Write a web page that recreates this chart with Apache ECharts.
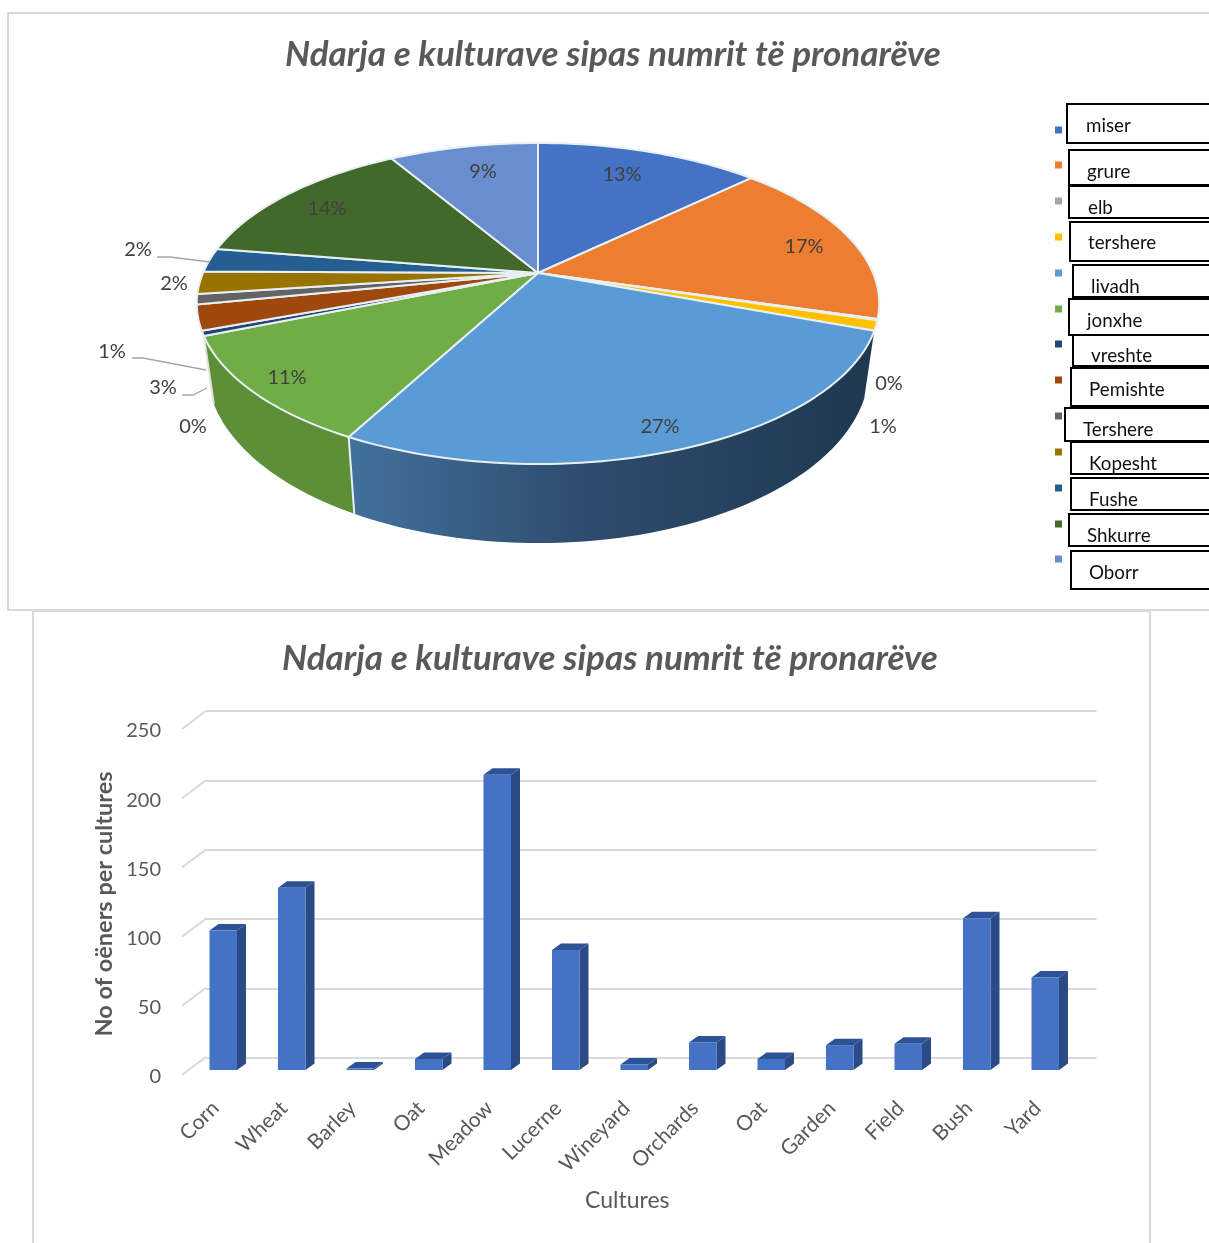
<!DOCTYPE html>
<html><head><meta charset="utf-8">
<style>html,body{margin:0;padding:0;background:#fff}#c{width:1209px;height:1243px}</style>
<script src="https://cdn.jsdelivr.net/npm/echarts@6/dist/echarts.min.js"></script>
</head><body><div id="c"></div>
<script>
const chartTitle = 'Ndarja e kulturave sipas numrit të pronarëve';
const barCategories = ['Corn','Wheat','Barley','Oat','Meadow','Lucerne','Wineyard','Orchards','Oat','Garden','Field','Bush','Yard'];
const ownerCounts = [101,132,1,8,214,87,4,20,8,18,19,110,67];
const yTicks = [0,50,100,150,200,250];
const pieNames = ['miser','grure','elb','tershere','livadh','jonxhe','vreshte','Pemishte','Tershere','Kopesht','Fushe','Shkurre','Oborr'];
const pieLabels = ['13%','17%','0%','1%','27%','11%','0%','3%','1%','2%','2%','14%','9%'];
const pieColors = ['#4472c4','#ed7d31','#a5a5a5','#ffc000','#5b9bd5','#70ad47','#264478','#9e480e','#636363','#997300','#255e91','#43682b','#698ed0'];

// Layout (not data)
const labelPos = [[622,175],[804,247],[889,384],[883,427],[660,427],[287,378],[193,427],[163,388],[112,352],[174,284],[138,250],[327,209],[483,172]];
const leaderLines = {10:[[157,257],[170,257],[210,262]],8:[[132,358],[143,358],[206,370]],7:[[182,395],[193,395],[207,388]]};
const legendBoxes = [[1067,104,143,1086,126,130],[1069,150,185,1087,172,165],[1069,186,218,1088,208,201],[1070,222,261,1088,243,237],[1073,265,297,1091,287,273],[1069,299,335,1087,321,309],[1073,335,366,1091,356,344],[1071,368,406,1089,390,380],[1065,408,441,1083,430,416],[1071,442,474,1089,464,452],[1071,478,510,1089,500,488],[1069,514,546,1087,536,524],[1071,551,589,1089,573,559]];

const FONT = 'Lato, "Open Sans", sans-serif';
const total = ownerCounts.reduce((a,b)=>a+b,0);
const cum = [0]; ownerCounts.forEach(v=>cum.push(cum[cum.length-1]+v));
const K = 0.19;
const TOP = {cx:538, cy:273, A:335, B:154.7};
const BOT = {cx:538, cy:335.7, A:325, B:168};
function proj(p, deg){
  const t = deg*Math.PI/180, X=Math.sin(t), Y=Math.cos(t), w=1+K*Y;
  return [p.cx + p.A*X/w, p.cy - p.B*Y/w];
}
const angle = i => cum[i]/total*360;
const SIDE_FROM = angle(4), SIDE_TO = angle(6);
function arc(p,a,b){ const n=Math.max(2,Math.ceil((b-a)/1.5)), r=[]; for(let i=0;i<=n;i++) r.push(proj(p,a+(b-a)*i/n)); return r; }
function seam(a,color,w){ const t=proj(TOP,a), b=proj(BOT,a); return {type:'line',shape:{x1:t[0],y1:t[1],x2:b[0],y2:b[1]},style:{stroke:color,lineWidth:w}}; }

function sideItem(params){
  const i=params.dataIndex, a=Math.max(angle(i),SIDE_FROM), b=Math.min(angle(i+1),SIDE_TO);
  if(b<=a) return {type:'group',children:[]};
  const pts = arc(TOP,a,b).concat(arc(BOT,a,b).reverse());
  const fill = pieNames[i]==='livadh'
    ? new echarts.graphic.LinearGradient(0,0,1,0,[{offset:0,color:'#42719d'},{offset:.45,color:'#2e4c6e'},{offset:1,color:'#1f3850'}])
    : '#5c8f38';
  const kids=[{type:'polygon',shape:{points:pts},style:{fill}}];
  if(a>SIDE_FROM) kids.push(seam(a,'#e6eff2',2));
  if(b>=SIDE_TO) kids.push(seam(b,'#e9dfd6',2));
  return {type:'group',children:kids};
}
function topItem(params){
  const i=params.dataIndex;
  const pts=[[TOP.cx,TOP.cy]].concat(arc(TOP,angle(i),angle(i+1)));
  return {type:'polygon',shape:{points:pts},style:{fill:pieColors[i],stroke:'#e8f0f3',lineWidth:2,lineJoin:'round'}};
}
function labelItem(params){
  const i=params.dataIndex, kids=[];
  if(leaderLines[i]) kids.push({type:'polyline',shape:{points:leaderLines[i]},style:{fill:'none',stroke:'#a6a6a6',lineWidth:1.3}});
  kids.push({type:'text',style:{text:pieLabels[i],x:labelPos[i][0],y:labelPos[i][1],fill:'#404040',font:'20px '+FONT,align:'center',verticalAlign:'middle'}});
  return {type:'group',children:kids};
}
function legendItem(params){
  const i=params.dataIndex, b=legendBoxes[i];
  return {type:'group',children:[
    {type:'rect',shape:{x:b[0],y:b[1],width:1300-b[0],height:b[2]-b[1]},style:{fill:'#fff',stroke:'#000',lineWidth:2}},
    {type:'rect',shape:{x:1055,y:b[5]-3.5,width:7,height:7},style:{fill:pieColors[i]}},
    {type:'text',style:{text:pieNames[i],x:b[3],y:b[4],fill:'#111',font:'18.8px '+FONT,align:'left',verticalAlign:'middle'}}
  ]};
}
function barItem(params,api){
  const i=api.value(0), top=api.coord([i,api.value(1)]), base=api.coord([i,0]);
  const hw=13.75, dx=9, dy=-6.5, l=top[0]-hw, r=top[0]+hw, t=top[1], y0=base[1];
  return {type:'group',children:[
    {type:'polygon',shape:{points:[[r,t],[r+dx,t+dy],[r+dx,y0+dy],[r,y0]]},style:{fill:'#2a4b85'}},
    {type:'polygon',shape:{points:[[l,t],[l+dx,t+dy],[r+dx,t+dy],[r,t]]},style:{fill:'#2d5296'}},
    {type:'rect',shape:{x:l,y:t,width:hw*2,height:y0-t},style:{fill:'#4472c4'}}
  ]};
}
function diagItem(params,api){
  const p=api.coord([0,api.value(0)]);
  return {type:'line',shape:{x1:p[0],y1:p[1]-2,x2:p[0]+24,y2:p[1]-20},style:{stroke:'#d9d9d9',lineWidth:2}};
}
const hiddenAxisBits={axisLine:{show:false},axisTick:{show:false},axisLabel:{show:false},splitLine:{show:false}};
const titleStyle={fontFamily:FONT,fontSize:35,fontWeight:'bold',fontStyle:'italic',color:'#595959'};
const chart=echarts.init(document.getElementById('c'),null,{renderer:'canvas'});
chart.setOption({
  animation:false,
  backgroundColor:'#fff',
  textStyle:{fontFamily:FONT},
  title:[
    {text:chartTitle,left:608,top:32,textAlign:'center',textStyle:titleStyle},
    {text:chartTitle,left:605,top:636,textAlign:'center',textStyle:titleStyle}
  ],
  graphic:[
    {type:'rect',z:-10,shape:{x:8,y:13,width:1300,height:597},style:{fill:'#fff',stroke:'#d9d9d9',lineWidth:2}},
    {type:'rect',z:-10,shape:{x:33,y:611,width:1117,height:720},style:{fill:'#fff',stroke:'#d9d9d9',lineWidth:2}}
  ],
  grid:[
    {left:189,top:725,width:890.5,height:345},
    {left:206,top:711,width:890.5,height:347},
    {left:182,top:731,width:24,height:346}
  ],
  xAxis:[
    {gridIndex:0,type:'category',data:barCategories,axisLine:{show:false},axisTick:{show:false},splitLine:{show:false},
     axisLabel:{interval:0,rotate:45,margin:27,padding:[0,11,0,0],fontSize:21,color:'#595959',fontFamily:FONT},
     name:'Cultures',nameLocation:'middle',nameGap:119,nameTextStyle:{fontSize:23,color:'#595959',fontFamily:FONT,padding:[0,14,0,0]}},
    Object.assign({gridIndex:1,type:'value',min:0,max:1},hiddenAxisBits),
    Object.assign({gridIndex:2,type:'value',min:0,max:1},hiddenAxisBits)
  ],
  yAxis:[
    Object.assign({gridIndex:0,type:'value',min:0,max:250,interval:50},hiddenAxisBits),
    {gridIndex:1,type:'value',min:0,max:250,interval:50,axisLine:{show:false},axisTick:{show:false},axisLabel:{show:false},splitLine:{show:true,lineStyle:{color:'#d9d9d9',width:2}}},
    {gridIndex:2,type:'value',min:0,max:250,interval:50,axisLine:{show:false},axisTick:{show:false},splitLine:{show:false},
     axisLabel:{margin:21,fontSize:20,color:'#595959',fontFamily:FONT},
     name:'No of oëners per cultures',nameLocation:'middle',nameRotate:90,nameGap:66,nameTextStyle:{fontSize:23.5,fontWeight:'bold',color:'#595959',fontFamily:FONT}}
  ],
  series:[
    {type:'custom',coordinateSystem:'none',silent:true,data:ownerCounts,renderItem:sideItem,z:2},
    {type:'custom',coordinateSystem:'none',silent:true,data:ownerCounts,renderItem:topItem,z:3},
    {type:'custom',coordinateSystem:'none',silent:true,data:pieLabels,renderItem:labelItem,z:4},
    {type:'custom',coordinateSystem:'none',silent:true,data:pieNames,renderItem:legendItem,z:4},
    {type:'custom',coordinateSystem:'cartesian2d',xAxisIndex:2,yAxisIndex:2,silent:true,data:yTicks.map(v=>[v]),encode:{y:0},renderItem:diagItem,z:1,clip:false},
    {type:'custom',coordinateSystem:'cartesian2d',xAxisIndex:0,yAxisIndex:0,silent:true,data:ownerCounts.map((v,i)=>[i,v]),encode:{x:0,y:1},renderItem:barItem,z:5,clip:false}
  ]
});
</script></body></html>
